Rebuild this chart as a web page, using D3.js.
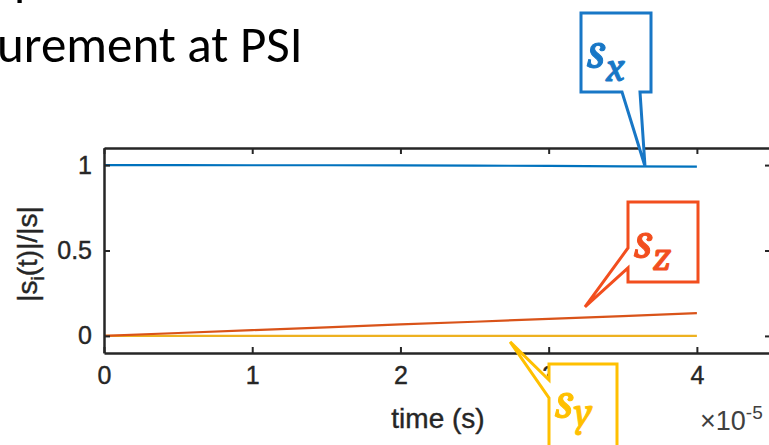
<!DOCTYPE html>
<html>
<head>
<meta charset="utf-8">
<script src="https://cdn.jsdelivr.net/npm/d3@7"></script>
<style>
  body { margin: 0; background: #fff; }
  svg { display: block; }
</style>
</head>
<body>
<svg id="chart"></svg>
<script>
const width = 769;
const height = 445;

// time in units of 1e-5 s
const time = [0, 0.5, 1, 1.5, 2, 2.5, 3, 3.5, 4];
const sx = [1, 1, 0.999, 0.999, 0.998, 0.997, 0.995, 0.993, 0.991];
const sy = [0, 0, 0, 0, 0, 0, 0, 0, 0];
const sz = [0, 0.017, 0.034, 0.05, 0.067, 0.083, 0.1, 0.116, 0.133];

const xTicks = [0, 1, 2, 3, 4];
const yTicks = [0, 0.5, 1];

const seriesNames = ["x", "y", "z"];
const lineColors = ["#0072BD", "#EDB120", "#D95319"];
const calloutColors = ["#1877C6", "#FFC000", "#F24E1E"];

const svg = d3.select("#chart")
    .attr("width", width)
    .attr("height", height);

const x = d3.scaleLinear().domain([0, 4.5]).range([104, 771]);
const y = d3.scaleLinear().domain([-0.1, 1.1]).range([353, 148]);

// slide title (cut off)
const titleFont = "Carlito, Calibri, 'Open Sans', Lato, sans-serif";
svg.append("text")
    .attr("x", 14).attr("y", -5)
    .style("font-family", titleFont)
    .style("font-size", "50px")
    .attr("fill", "#000")
    .text("p");

svg.append("text")
    .attr("x", -3).attr("y", 62)
    .style("font-family", titleFont)
    .style("font-size", "51px")
    .attr("fill", "#000")
    .text("urement at PSI");

// lines
const line = d3.line().x((d, i) => x(time[i])).y(d => y(d));
[sx, sy, sz].forEach((vals, k) => {
    svg.append("path")
        .datum(vals)
        .attr("fill", "none")
        .attr("stroke", lineColors[k])
        .attr("stroke-width", 2.2)
        .attr("d", line);
});

// axes box
const axisColor = "#262626";
const axFont = "'Liberation Sans', Arial, sans-serif";

const styleTicks = g => {
    g.select(".domain").attr("stroke-width", 2.5);
    g.selectAll(".tick line").attr("stroke-width", 2);
    g.selectAll("text")
        .attr("font-size", 25)
        .attr("font-family", axFont)
        .attr("fill", axisColor)
        .attr("stroke", axisColor)
        .attr("stroke-width", 0.4);
};

svg.append("g")
    .attr("color", axisColor)
    .attr("transform", `translate(0,${y.range()[0]})`)
    .call(d3.axisBottom(x).tickValues(xTicks).tickSizeInner(-6).tickSizeOuter(0).tickPadding(13).tickFormat(d3.format("d")))
    .call(styleTicks);

svg.append("g")
    .attr("color", axisColor)
    .attr("transform", `translate(0,${y.range()[1]})`)
    .call(d3.axisTop(x).tickValues(xTicks).tickSizeInner(-6).tickSizeOuter(0).tickFormat(""))
    .call(styleTicks);

svg.append("g")
    .attr("color", axisColor)
    .attr("transform", `translate(${x.range()[0]},0)`)
    .call(d3.axisLeft(y).tickValues(yTicks).tickSizeInner(-6).tickSizeOuter(0).tickPadding(12).tickFormat(d => d === 0.5 ? "0.5" : d3.format("d")(d)))
    .call(styleTicks);

svg.append("g")
    .attr("color", axisColor)
    .attr("transform", `translate(${x.range()[1]},0)`)
    .call(d3.axisRight(y).tickValues(yTicks).tickSizeInner(-6).tickSizeOuter(0).tickFormat(""))
    .call(styleTicks);

// axis labels
svg.append("text")
    .attr("x", 438).attr("y", 428)
    .attr("text-anchor", "middle")
    .attr("font-family", axFont).attr("font-size", 28)
    .attr("fill", axisColor).attr("stroke", axisColor).attr("stroke-width", 0.4)
    .text("time (s)");

const yl = svg.append("text")
    .attr("transform", "translate(37,254) rotate(-90)")
    .attr("text-anchor", "middle")
    .attr("font-family", axFont).attr("font-size", 28)
    .attr("fill", axisColor).attr("stroke", axisColor).attr("stroke-width", 0.4);
yl.append("tspan").text("|s");
yl.append("tspan").attr("dy", 7).attr("font-size", 19).text("i");
yl.append("tspan").attr("dy", -7).text("(t)|/|s|");

const ex = svg.append("text")
    .attr("x", 700).attr("y", 430)
    .attr("font-family", axFont).attr("font-size", 27)
    .attr("fill", "#404040");
ex.append("tspan").text("\u00d710");
ex.append("tspan").attr("dy", -11).attr("font-size", 19).text("-5");

// callouts: tip in data space, box in pixels
const callouts = [
    { name: "x", tipT: 3.65, tipV: 0.993, box: [581, 13, 70, 79], notch: "bottom", n1: 622, n2: 640, sBase: 68, subShift: 13 },
    { name: "z", tipT: 3.245, tipV: 0.17, box: [628, 202, 70, 80], notch: "left", n1: 248, n2: 268, sBase: 258, subShift: 12 },
    { name: "y", tipT: 2.74, tipV: -0.035, box: [549, 364, 68, 120], notch: "left", n1: 380, n2: 398, sBase: 418, subShift: 8 }
];

callouts.forEach(c => {
    const k = seriesNames.indexOf(c.name);
    const col = calloutColors[k];
    const [bx, by, bw, bh] = c.box;
    const tx = x(c.tipT), ty = y(c.tipV);
    let p;
    if (c.notch === "bottom") {
        p = `M${bx},${by}H${bx + bw}V${by + bh}H${c.n2}L${tx},${ty}L${c.n1},${by + bh}H${bx}Z`;
    } else {
        p = `M${bx},${by}H${bx + bw}V${by + bh}H${bx}V${c.n2}L${tx},${ty}L${bx},${c.n1}Z`;
    }
    svg.append("path")
        .attr("d", p)
        .attr("fill", "#fff")
        .attr("stroke", col)
        .attr("stroke-width", 3)
        .attr("stroke-linejoin", "miter");

    const t = svg.append("text")
        .attr("x", bx + 6).attr("y", c.sBase)
        .attr("font-family", "'Cambria Math', Cambria, 'DejaVu Serif', serif")
        .attr("font-style", "italic")
        .attr("font-size", 52)
        .attr("fill", col)
        .attr("stroke", col)
        .attr("stroke-width", 1);
    t.append("tspan").text("s");
    t.append("tspan").attr("dy", c.subShift).attr("dx", 0).attr("font-size", 42).text(c.name);
});
</script>
</body>
</html>
